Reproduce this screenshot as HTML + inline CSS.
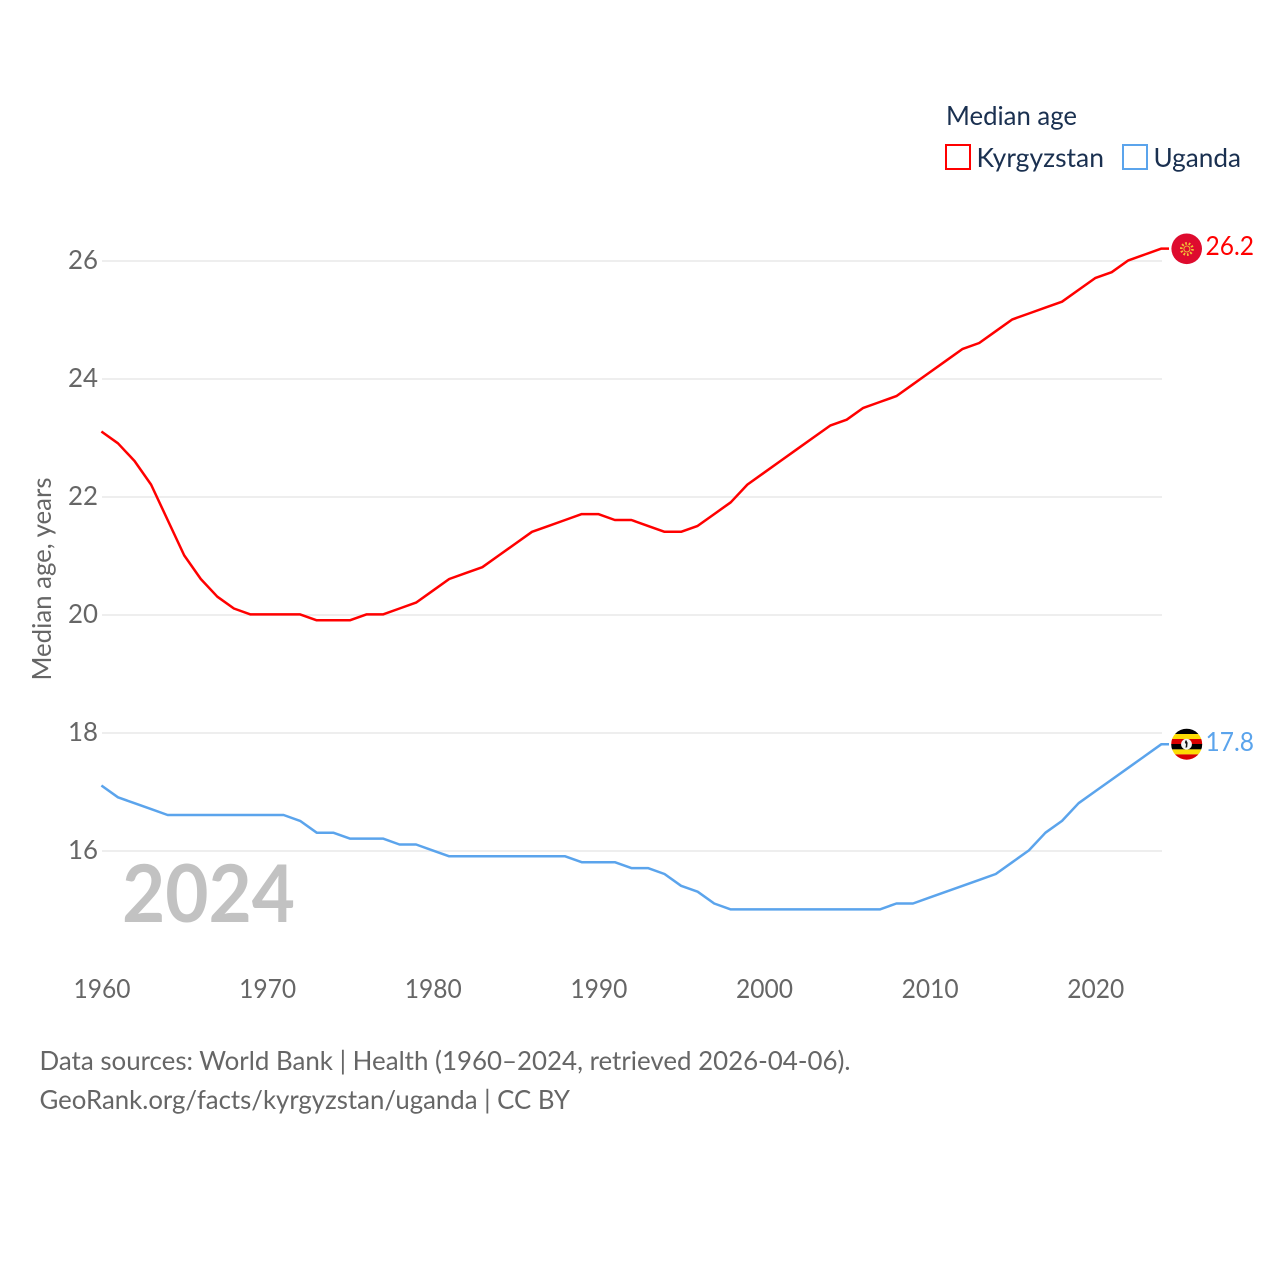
<!DOCTYPE html>
<html lang="en">
<head>
<meta charset="utf-8">
<title>Median age: Kyrgyzstan and Uganda</title>
<style>
html,body{margin:0;padding:0;background:#fff;width:1280px;height:1280px;overflow:hidden}
svg{display:block}
text{font-family:"Lato","Carlito","Liberation Sans",sans-serif}
</style>
</head>
<body>
<svg id="chart" xmlns="http://www.w3.org/2000/svg" width="1280" height="1280" viewBox="0 0 1280 1280">
  <rect width="1280" height="1280" fill="#ffffff"/>
  <g id="grid"></g>
  <g id="yticks"></g>
  <g id="xticks"></g>
  <text transform="translate(51,579) rotate(-90)" text-anchor="middle" font-size="26" fill="#666666" textLength="203" lengthAdjust="spacingAndGlyphs">Median age, years</text>
  <text x="122" y="922" font-size="79.5" font-weight="700" fill="#c2c2c2" textLength="173" lengthAdjust="spacingAndGlyphs">2024</text>
  <g id="series"></g>

  <g>
    <circle cx="1186.7" cy="248.8" r="15.3" fill="#de0b2e"/>
    <g fill="none">
      <circle cx="1186.9" cy="249" r="5.6" stroke="#f2c037" stroke-width="2.6" stroke-dasharray="1.7 1.8"/>
      <circle cx="1186.9" cy="249" r="3" stroke="#eeb93a" stroke-width="1"/>
    </g>
  </g>

  <g>
    <clipPath id="ug-clip"><circle cx="1186.7" cy="744.2" r="15.5"/></clipPath>
    <g clip-path="url(#ug-clip)">
      <rect x="1171" y="728" width="32" height="6" fill="#000000"/>
      <rect x="1171" y="734" width="32" height="5" fill="#fcdc04"/>
      <rect x="1171" y="739" width="32" height="5" fill="#d90000"/>
      <rect x="1171" y="744" width="32" height="5.4" fill="#000000"/>
      <rect x="1171" y="749.4" width="32" height="5" fill="#fcdc04"/>
      <rect x="1171" y="754.4" width="32" height="6" fill="#d90000"/>
    </g>
    <circle cx="1186.5" cy="744.2" r="5.4" fill="#f4f4f4"/>
    <path d="M1186 739.8 l1.6 3 -0.4 4.4 -1.7 0.6 0.5 -3.4 -1.2 -2.2z" fill="#111111"/>
  </g>

  <text x="1205.5" y="255" font-size="26" fill="#ff0000" textLength="48.5" lengthAdjust="spacingAndGlyphs">26.2</text>
  <text x="1205.5" y="751" font-size="26" fill="#5ba4ec" textLength="48.5" lengthAdjust="spacingAndGlyphs">17.8</text>

  <g>
    <text x="946" y="125" font-size="26.5" fill="#1a3050" textLength="131" lengthAdjust="spacingAndGlyphs">Median age</text>
    <g>
      <rect x="946" y="145" width="24" height="24" fill="#ffffff" stroke="#ff0000" stroke-width="2"/>
      <text x="976.5" y="167" font-size="26.5" fill="#1a3050" textLength="127.5" lengthAdjust="spacingAndGlyphs">Kyrgyzstan</text>
    </g>
    <g>
      <rect x="1123" y="145" width="24" height="24" fill="#ffffff" stroke="#5ba4ec" stroke-width="2"/>
      <text x="1153.5" y="167" font-size="26.5" fill="#1a3050" textLength="87.5" lengthAdjust="spacingAndGlyphs">Uganda</text>
    </g>
  </g>

  <text x="39.5" y="1070" font-size="26.5" fill="#666666" textLength="811" lengthAdjust="spacingAndGlyphs">Data sources: World Bank | Health (1960–2024, retrieved 2026-04-06).</text>
  <text x="39.5" y="1109" font-size="26.5" fill="#666666" textLength="530.5" lengthAdjust="spacingAndGlyphs">GeoRank.org/facts/kyrgyzstan/uganda | CC BY</text>
</svg>

<script>
const startYear = 1960;
const kyrgyzstanValues = [23.1,22.9,22.6,22.2,21.6,21.0,20.6,20.3,20.1,20.0,20.0,20.0,20.0,19.9,19.9,19.9,20.0,20.0,20.1,20.2,20.4,20.6,20.7,20.8,21.0,21.2,21.4,21.5,21.6,21.7,21.7,21.6,21.6,21.5,21.4,21.4,21.5,21.7,21.9,22.2,22.4,22.6,22.8,23.0,23.2,23.3,23.5,23.6,23.7,23.9,24.1,24.3,24.5,24.6,24.8,25.0,25.1,25.2,25.3,25.5,25.7,25.8,26.0,26.1,26.2];
const ugandaValues = [17.1,16.9,16.8,16.7,16.6,16.6,16.6,16.6,16.6,16.6,16.6,16.6,16.5,16.3,16.3,16.2,16.2,16.2,16.1,16.1,16.0,15.9,15.9,15.9,15.9,15.9,15.9,15.9,15.9,15.8,15.8,15.8,15.7,15.7,15.6,15.4,15.3,15.1,15.0,15.0,15.0,15.0,15.0,15.0,15.0,15.0,15.0,15.0,15.1,15.1,15.2,15.3,15.4,15.5,15.6,15.8,16.0,16.3,16.5,16.8,17.0,17.2,17.4,17.6,17.8];
const yTickValues = [16,18,20,22,24,26];
const xTickValues = [1960,1970,1980,1990,2000,2010,2020];

const NS = 'http://www.w3.org/2000/svg';
const xScale = function (year) { return 101.4 + (year - 1960) * (1060 / 64); };
const yScale = function (value) { return 851 - (value - 16) * 59; };

function svgEl(tag, parentId) {
  const el = document.createElementNS(NS, tag);
  document.getElementById(parentId).appendChild(el);
  return el;
}

yTickValues.forEach(function (v) {
  const line = svgEl('line', 'grid');
  
  
  line.setAttribute('x1', 102);
  line.setAttribute('x2', 1162);
  line.setAttribute('y1', yScale(v));
  line.setAttribute('y2', yScale(v));
  line.setAttribute('stroke', '#eeeeee');
  line.setAttribute('stroke-width', 2);

  const label = svgEl('text', 'yticks');
  
  
  label.setAttribute('x', 98);
  label.setAttribute('y', yScale(v) + 8);
  label.setAttribute('text-anchor', 'end');
  label.setAttribute('font-size', 26);
  label.setAttribute('fill', '#666666');
  label.setAttribute('textLength', 30);
  label.setAttribute('lengthAdjust', 'spacingAndGlyphs');
  label.textContent = v;
});

xTickValues.forEach(function (year) {
  const label = svgEl('text', 'xticks');
  
  
  label.setAttribute('x', xScale(year) + 0.6);
  label.setAttribute('y', 998);
  label.setAttribute('text-anchor', 'middle');
  label.setAttribute('font-size', 26);
  label.setAttribute('fill', '#666666');
  label.setAttribute('textLength', 57);
  label.setAttribute('lengthAdjust', 'spacingAndGlyphs');
  label.textContent = year;
});

function drawSeries(values, color, name) {
  const pts = values.map(function (v, i) {
    return xScale(startYear + i).toFixed(2) + ',' + (yScale(v) - 0.6).toFixed(2);
  });
  const lastY = (yScale(values[values.length - 1]) - 0.6).toFixed(2);
  pts.push('1169,' + lastY);
  const line = svgEl('polyline', 'series');
  
  
  line.setAttribute('points', pts.join(' '));
  line.setAttribute('fill', 'none');
  line.setAttribute('stroke', color);
  line.setAttribute('stroke-width', 2.5);
  line.setAttribute('stroke-linejoin', 'round');
}

drawSeries(kyrgyzstanValues, '#ff0000', 'line-kyrgyzstan');
drawSeries(ugandaValues, '#5ba4ec', 'line-uganda');
</script>
</body>
</html>
